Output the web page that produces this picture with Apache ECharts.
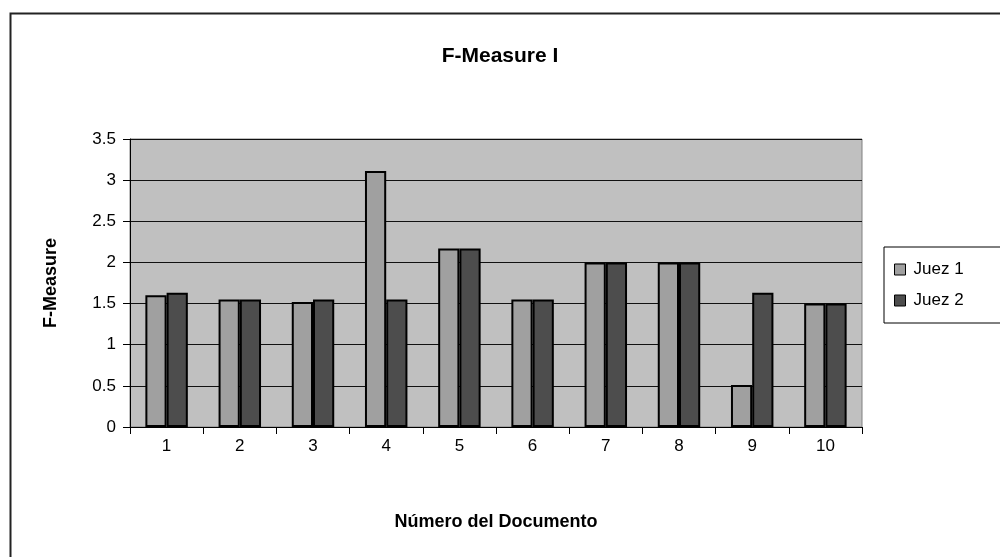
<!DOCTYPE html>
<html>
<head>
<meta charset="utf-8">
<script src="https://cdn.jsdelivr.net/npm/echarts@6/dist/echarts.min.js"></script>
<style>
html,body{margin:0;padding:0;background:#fff;}
#c{width:1000px;height:557px;}
</style>
</head>
<body>
<div id="c"></div>
<script>
const categories = ['1','2','3','4','5','6','7','8','9','10'];
const juez1 = [1.60, 1.55, 1.52, 3.11, 2.17, 1.55, 2.0, 2.0, 0.51, 1.5];
const juez2 = [1.63, 1.55, 1.55, 1.55, 2.17, 1.55, 2.0, 2.0, 1.63, 1.5];
const seriesNames = ['Juez 1', 'Juez 2'];
const yTicks = { min: 0, max: 3.5, interval: 0.5 };

const FONT = '"Liberation Sans", Arial, sans-serif';
const chart = echarts.init(document.getElementById('c'), null, {renderer: 'canvas'});
chart.setOption({
  animation: false,
  backgroundColor: '#ffffff',
  graphic: [{
    type: 'rect', left: 8, top: 11, silent: true, z: -1,
    shape: {width: 1040, height: 600},
    style: {fill: 'none', stroke: '#222', lineWidth: 2}
  }],
  title: {
    text: 'F-Measure I',
    left: 'center', top: 41,
    textStyle: {fontFamily: FONT, fontWeight: 'bold', fontSize: 21, color: '#000'}
  },
  legend: {
    orient: 'vertical',
    left: 884, top: 247,
    padding: [14, 40, 14, 10],
    itemGap: 14,
    itemWidth: 11, itemHeight: 11,
    icon: 'rect',
    itemStyle: {borderColor: '#000', borderWidth: 1},
    borderColor: '#000', borderWidth: 1,
    backgroundColor: '#fff',
    textStyle: {fontFamily: FONT, fontSize: 17, color: '#000', padding: [0, 0, 0, 3]},
    data: seriesNames
  },
  grid: {
    left: 130, right: 138, top: 139, bottom: 130,
    show: true, backgroundColor: '#c0c0c0', borderColor: '#808080', borderWidth: 1
  },
  xAxis: {
    type: 'category',
    data: categories,
    name: 'Número del Documento',
    nameLocation: 'middle',
    nameGap: 86,
    nameTextStyle: {fontFamily: FONT, fontWeight: 'bold', fontSize: 18, color: '#000'},
    axisLine: {lineStyle: {color: '#000', width: 1}},
    axisTick: {show: true, alignWithLabel: false, length: 7, lineStyle: {color: '#000'}},
    axisLabel: {fontFamily: FONT, fontSize: 17, color: '#000', margin: 11}
  },
  yAxis: {
    type: 'value',
    min: yTicks.min, max: yTicks.max, interval: yTicks.interval,
    name: 'F-Measure',
    nameLocation: 'middle',
    nameGap: 70,
    nameRotate: 90,
    nameTextStyle: {fontFamily: FONT, fontWeight: 'bold', fontSize: 18, color: '#000'},
    axisLine: {show: true, lineStyle: {color: '#000', width: 1}},
    axisTick: {show: true, length: 7, lineStyle: {color: '#000'}},
    axisLabel: {fontFamily: FONT, fontSize: 17, color: '#000', margin: 14},
    splitLine: {show: true, lineStyle: {color: '#111', width: 1}}
  },
  series: [
    {
      name: seriesNames[0], type: 'bar', data: juez1,
      barGap: '0%', barCategoryGap: '42%',
      itemStyle: {color: '#a0a0a0', borderColor: '#000', borderWidth: 2}
    },
    {
      name: seriesNames[1], type: 'bar', data: juez2,
      barGap: '0%', barCategoryGap: '42%',
      itemStyle: {color: '#4d4d4d', borderColor: '#000', borderWidth: 2}
    }
  ]
});
</script>
</body>
</html>
